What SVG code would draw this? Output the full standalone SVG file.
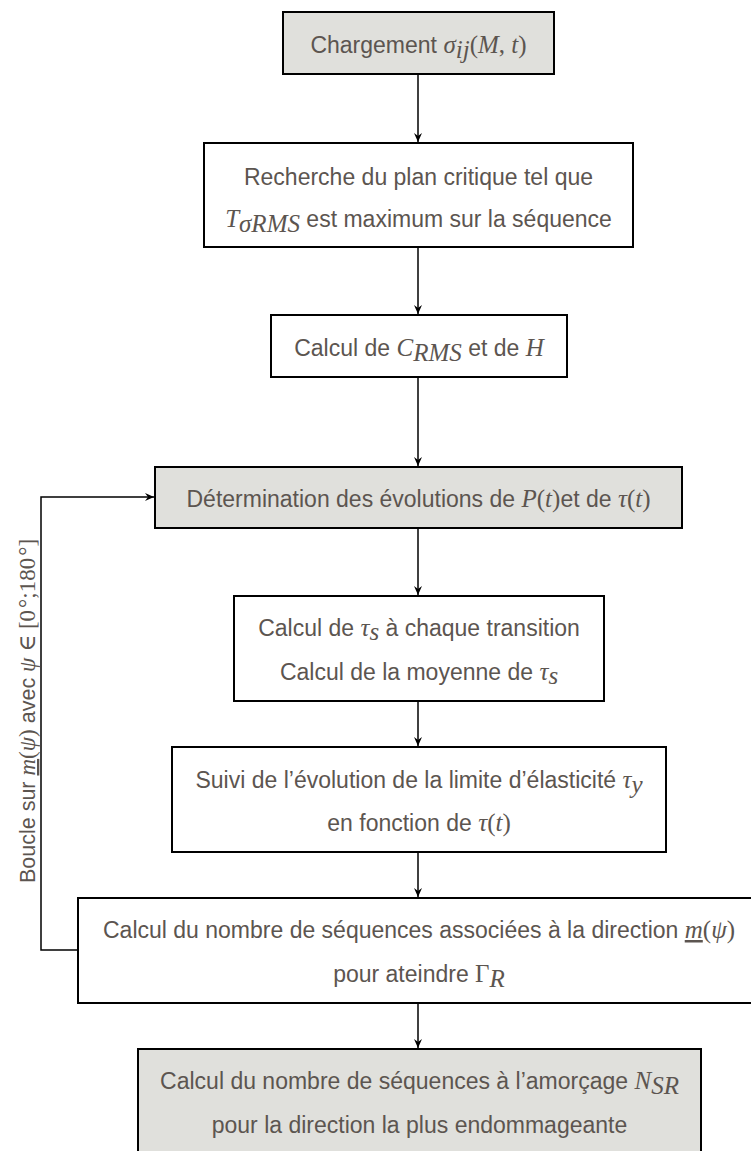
<svg xmlns="http://www.w3.org/2000/svg" width="751" height="1151" viewBox="0 0 751 1151">
<defs>
<style>
.box { stroke: #000; stroke-width: 2; fill: #fff; }
.grey { fill: #e0e0dc; }
.t { font-family: "Liberation Sans", Arial, sans-serif; font-size: 23px; fill: #5c5550; text-anchor: middle; }
.m { font-family: "Liberation Serif", "DejaVu Serif", serif; font-style: italic; font-size: 25px; }
.r { font-family: "Liberation Serif", "DejaVu Serif", serif; font-style: normal; font-size: 25px; }
.lbl { font-size: 21.5px; }
.lbl .m, .lbl .r { font-size: 23px; }
.c { fill: none; stroke: #000; stroke-width: 1.5; marker-end: url(#ah); }
</style>
<marker id="ah" viewBox="-10 -5 11 10" refX="0" refY="0" markerWidth="11" markerHeight="10" markerUnits="userSpaceOnUse" orient="auto">
<path d="M0,0 L-9,-4 L-6,0 L-9,4 Z" fill="#000"/>
</marker>
</defs>
<rect width="751" height="1151" fill="#fff"/>

<g id="connectors">
<line class="c" x1="418" y1="74" x2="418" y2="142"/>
<line class="c" x1="418" y1="247" x2="418" y2="314"/>
<line class="c" x1="418" y1="377" x2="418" y2="466"/>
<line class="c" x1="418" y1="528" x2="418" y2="595"/>
<line class="c" x1="418" y1="701" x2="418" y2="746"/>
<line class="c" x1="418" y1="852" x2="418" y2="897"/>
<line class="c" x1="418" y1="1003" x2="418" y2="1048"/>
<polyline class="c" points="78,950 41,950 41,497 154,497"/>
</g>

<g id="n1">
<rect class="box grey" x="283" y="12" width="271" height="62"/>
<text class="t" x="418.5" y="53">Chargement <tspan class="m">σ</tspan><tspan class="m" font-size="17" dy="5">ij</tspan><tspan class="r" dy="-5">(</tspan><tspan class="m">M</tspan><tspan class="r">,</tspan><tspan class="m"> t</tspan><tspan class="r">)</tspan></text>
</g>

<g id="n2">
<rect class="box" x="204" y="143" width="429" height="104"/>
<text class="t" x="418.5" y="185">Recherche du plan critique tel que</text>
<text class="t" x="418.5" y="227"><tspan class="m">T</tspan><tspan class="m" font-size="17" dy="5">σRMS</tspan><tspan dy="-5"> est maximum sur la séquence</tspan></text>
</g>

<g id="n3">
<rect class="box" x="271" y="315" width="296" height="62"/>
<text class="t" x="419" y="356">Calcul de <tspan class="m">C</tspan><tspan class="m" font-size="17" dy="5">RMS</tspan><tspan dy="-5"> et de </tspan><tspan class="m">H</tspan></text>
</g>

<g id="n4">
<rect class="box grey" x="155" y="467" width="527" height="61"/>
<text class="t" x="418.5" y="507">Détermination des évolutions de <tspan class="m">P</tspan><tspan class="r">(</tspan><tspan class="m">t</tspan><tspan class="r">)</tspan>et de <tspan class="m">τ</tspan><tspan class="r">(</tspan><tspan class="m">t</tspan><tspan class="r">)</tspan></text>
</g>

<g id="n5">
<rect class="box" x="234" y="596" width="370" height="105"/>
<text class="t" x="419" y="636">Calcul de <tspan class="m">τ</tspan><tspan class="m" font-size="17" dy="4">s</tspan><tspan dy="-4"> à chaque transition</tspan></text>
<text class="t" x="419" y="680">Calcul de la moyenne de <tspan class="m">τ</tspan><tspan class="m" font-size="17" dy="4">s</tspan></text>
</g>

<g id="n6">
<rect class="box" x="172" y="747" width="494" height="105"/>
<text class="t" x="419" y="788">Suivi de l’évolution de la limite d’élasticité <tspan class="m">τ</tspan><tspan class="m" font-size="17" dy="5">y</tspan></text>
<text class="t" x="419" y="831">en fonction de <tspan class="m">τ</tspan><tspan class="r">(</tspan><tspan class="m">t</tspan><tspan class="r">)</tspan></text>
</g>

<g id="n7">
<rect class="box" x="78" y="898" width="682" height="105"/>
<text class="t" x="419" y="938">Calcul du nombre de séquences associées à la direction <tspan class="m" text-decoration="underline">m</tspan><tspan class="r">(</tspan><tspan class="m">ψ</tspan><tspan class="r">)</tspan></text>
<text class="t" x="419" y="982">pour ateindre <tspan class="r">Γ</tspan><tspan class="m" font-size="17" dy="5">R</tspan></text>
</g>

<g id="n8">
<rect class="box grey" x="138" y="1049" width="563" height="110"/>
<text class="t" x="419.5" y="1089">Calcul du nombre de séquences à l’amorçage <tspan class="m">N</tspan><tspan class="m" font-size="17" dy="5">SR</tspan></text>
<text class="t" x="419.5" y="1133">pour la direction la plus endommageante</text>
</g>

<g id="loop-label">
<text class="t lbl" transform="translate(35,711) rotate(-90)" x="0" y="0">Boucle sur <tspan class="m" text-decoration="underline">m</tspan><tspan class="r">(</tspan><tspan class="m">ψ</tspan><tspan class="r">)</tspan> avec <tspan class="m">ψ</tspan><tspan class="r"> ∈ [0<tspan dx="2">°</tspan>;180<tspan dx="2">°</tspan>]</tspan></text>
</g>
</svg>
